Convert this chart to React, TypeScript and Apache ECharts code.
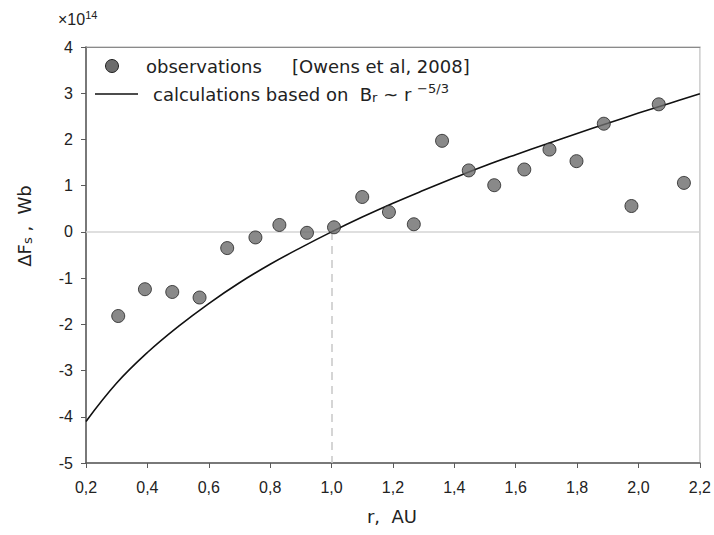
import React, { useEffect, useRef } from "react";
import * as echarts from "echarts";

const obsR = [0.305, 0.392, 0.481, 0.57, 0.66, 0.752, 0.83, 0.92, 1.008, 1.1, 1.187, 1.268, 1.36, 1.447, 1.53, 1.628, 1.71, 1.798, 1.887, 1.977, 2.066, 2.148];
const obsF = [-1.82, -1.24, -1.3, -1.42, -0.35, -0.12, 0.15, -0.02, 0.1, 0.755, 0.43, 0.165, 1.97, 1.33, 1.01, 1.35, 1.78, 1.53, 2.34, 0.56, 2.76, 1.06];

const calcR = [0.2, 0.3, 0.4, 0.5, 0.6, 0.7, 0.8, 0.9, 1.0, 1.1, 1.2, 1.3, 1.4, 1.5, 1.6, 1.7, 1.8, 1.9, 2.0, 2.1, 2.2];
const calcF = [-4.1, -3.27, -2.61, -2.05, -1.55, -1.1, -0.7, -0.34, 0, 0.32, 0.62, 0.9, 1.17, 1.43, 1.67, 1.9, 2.13, 2.35, 2.57, 2.78, 2.99];

const xTicks = { min: 0.2, max: 2.2, interval: 0.2 };
const yTicks = { min: -5, max: 4, interval: 1 };

const FONT = "Liberation Sans, Arial, sans-serif";
const WIDE = "DejaVu Sans, Verdana, sans-serif";
const TXT = "#222";

export default function App() {
  const ref = useRef<HTMLDivElement>(null);
  useEffect(() => {
    if (!ref.current) return;
    const chart = echarts.init(ref.current, null, { renderer: "svg" });
    chart.setOption({
      animation: false,
      backgroundColor: "#fff",
      grid: {
        left: 86,
        right: 12,
        top: 47,
        bottom: 72,
        show: true,
        borderColor: "#cccccc",
        borderWidth: 1.5,
        backgroundColor: "transparent",
      },
      xAxis: [
        {
          type: "value",
          min: xTicks.min,
          max: xTicks.max,
          interval: xTicks.interval,
          axisLine: { show: true, onZero: false, lineStyle: { color: "#5a5a5a", width: 1.5 } },
          axisTick: { show: true, length: 5, lineStyle: { color: "#5a5a5a" } },
          axisLabel: {
            color: TXT,
            fontFamily: FONT,
            fontSize: 16,
            margin: 16,
            formatter: (v: number) => v.toFixed(1).replace(".", ","),
          },
          splitLine: { show: false },
        },
        {
          type: "value",
          position: "top",
          min: xTicks.min,
          max: xTicks.max,
          interval: xTicks.interval,
          axisLine: { show: true, onZero: false, lineStyle: { color: "#8a8a8a", width: 1 } },
          axisTick: { show: false },
          axisLabel: { show: false },
          splitLine: { show: false },
        },
      ],
      yAxis: {
        type: "value",
        min: yTicks.min,
        max: yTicks.max,
        interval: yTicks.interval,
        axisLine: { show: true, onZero: false, lineStyle: { color: "#5a5a5a", width: 1.5 } },
        axisTick: { show: true, length: 5, lineStyle: { color: "#5a5a5a" } },
        axisLabel: { color: TXT, fontFamily: FONT, fontSize: 16, margin: 13 },
        splitLine: { show: false },
      },
      series: [
        {
          type: "line",
          data: calcR.map((r, i) => [r, calcF[i]]),
          smooth: 0.4,
          showSymbol: false,
          lineStyle: { color: "#111", width: 1.6 },
          z: 3,
          markLine: {
            silent: true,
            symbol: "none",
            label: { show: false },
            data: [
              [
                { coord: [xTicks.min, 0], lineStyle: { color: "#d4d4d4", type: "solid", width: 1.5 } },
                { coord: [xTicks.max, 0] },
              ],
              [
                { coord: [1.0, 0], lineStyle: { color: "#c8c8c8", type: [8, 6], width: 1.5 } },
                { coord: [1.0, yTicks.min] },
              ],
            ],
            z: 1,
          },
        },
        {
          type: "scatter",
          data: obsR.map((r, i) => [r, obsF[i]]),
          symbol: "circle",
          symbolSize: 13,
          itemStyle: { color: "#6c6c6c", borderColor: "#222", borderWidth: 1 },
          z: 4,
        },
      ],
      graphic: [
        {
          type: "text",
          left: 58,
          top: 9,
          style: {
            text: "×10{s|14}",
            fill: TXT,
            font: `16px ${FONT}`,
            rich: { s: { fontSize: 11, verticalAlign: "top", fill: TXT, fontFamily: FONT, padding: [0, 0, 9, 0] } },
          },
        },
        {
          type: "circle",
          shape: { cx: 112, cy: 66, r: 6.5 },
          style: { fill: "#6c6c6c", stroke: "#222", lineWidth: 1 },
          z: 10,
        },
        {
          type: "text",
          x: 146,
          y: 66,
          style: { text: "observations", fill: TXT, font: `18px ${WIDE}`, verticalAlign: "middle" },
          z: 10,
        },
        {
          type: "text",
          x: 292,
          y: 66,
          style: { text: "[Owens et al, 2008]", fill: TXT, font: `18px ${WIDE}`, verticalAlign: "middle" },
          z: 10,
        },
        {
          type: "line",
          shape: { x1: 95, y1: 94, x2: 138, y2: 94 },
          style: { stroke: "#111", lineWidth: 1.6 },
          z: 10,
        },
        {
          type: "text",
          x: 153,
          y: 94,
          style: {
            text: "calculations based on  B{sub|r} ~ r {sup|−5/3}",
            fill: TXT,
            font: `18px ${WIDE}`,
            verticalAlign: "middle",
            rich: {
              sub: { fontSize: 13, fontFamily: WIDE, fill: TXT, padding: [7, 0, 0, 0] },
              sup: { fontSize: 13, fontFamily: WIDE, fill: TXT, padding: [0, 0, 11, 0] },
            },
          },
          z: 10,
        },
        {
          type: "text",
          x: 24,
          y: 226,
          rotation: Math.PI / 2,
          style: {
            text: "ΔF{sub|s} ,  Wb",
            fill: TXT,
            font: `18px ${WIDE}`,
            align: "center",
            verticalAlign: "middle",
            rich: { sub: { fontSize: 13, fontFamily: WIDE, fill: TXT, padding: [7, 0, 0, 0] } },
          },
        },
        {
          type: "text",
          x: 392,
          y: 516,
          style: {
            text: "r,  AU",
            fill: TXT,
            font: `18px ${WIDE}`,
            align: "center",
            verticalAlign: "middle",
          },
        },
      ],
    });
    return () => chart.dispose();
  }, []);
  return <div ref={ref} style={{ width: 714, height: 535, position: "absolute", left: 0, top: 0 }} />;
}
